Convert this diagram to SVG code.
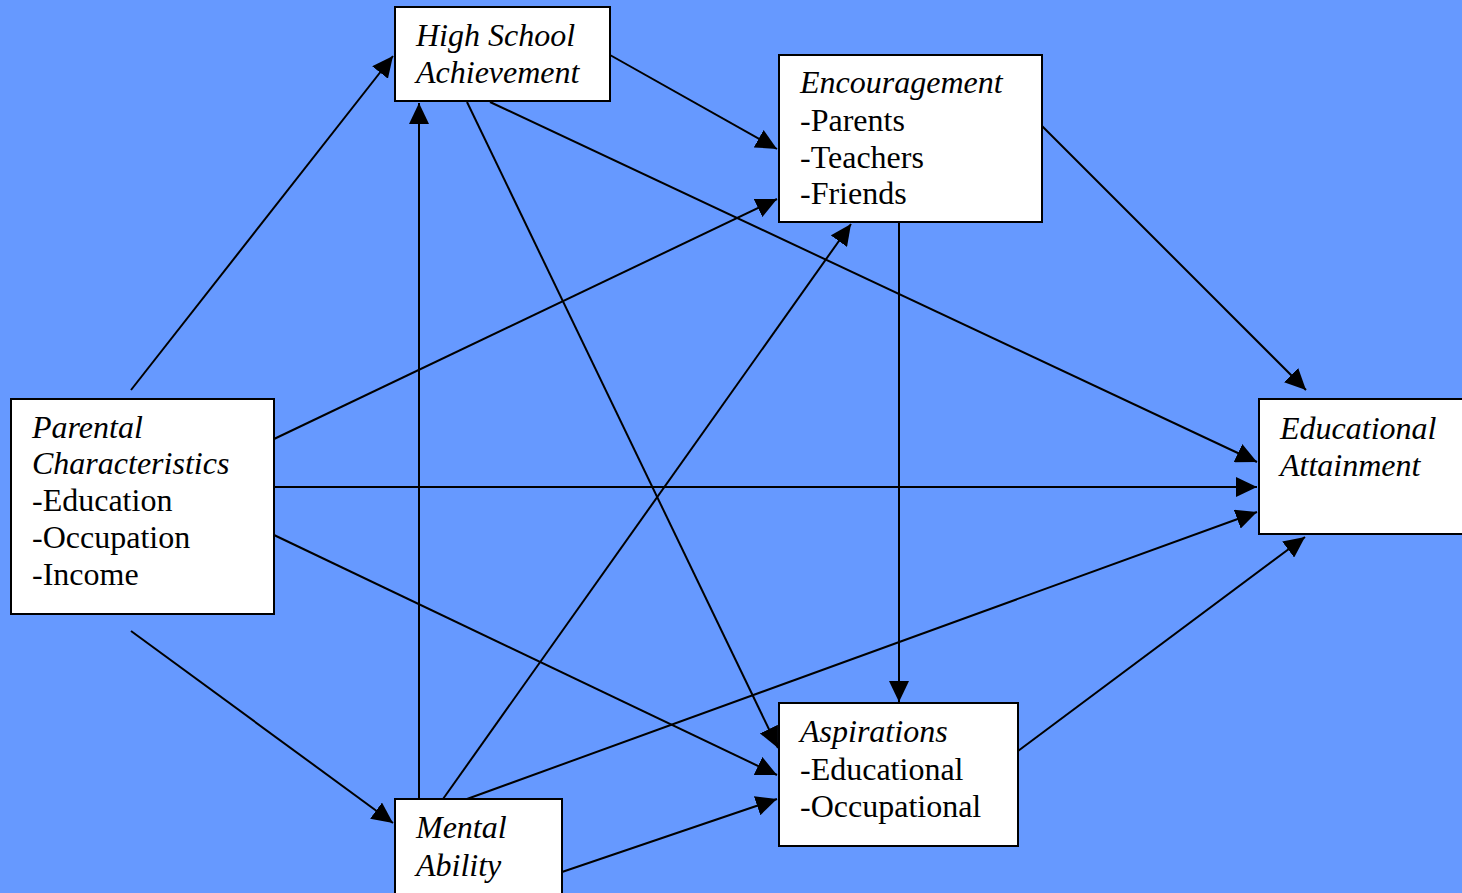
<svg xmlns="http://www.w3.org/2000/svg" width="1462" height="893" viewBox="0 0 1462 893">
  <style>
    .box { fill: #ffffff; stroke: #000000; stroke-width: 2; }
    .lbl { font-family: "Liberation Serif", "Times New Roman", serif; font-size: 32px; fill: #000000; }
    .it { font-style: italic; }
    .edge { stroke: #000000; stroke-width: 2; fill: none; marker-end: url(#arrow); }
  </style>
  <defs>
    <marker id="arrow" markerUnits="userSpaceOnUse" markerWidth="22" markerHeight="20" refX="21" refY="10" orient="auto">
      <path d="M0,0 L21,10 L0,20 z" fill="#000000"/>
    </marker>
  </defs>

  <rect width="1462" height="893" fill="#6699FF"/>

  <g id="connectors">
    <line class="edge" x1="131" y1="390" x2="393" y2="56"/>
    <line class="edge" x1="131" y1="631" x2="393" y2="823"/>
    <line class="edge" x1="419" y1="799" x2="419" y2="103"/>
    <line class="edge" x1="610" y1="55" x2="777" y2="149"/>
    <line class="edge" x1="274" y1="439" x2="777" y2="199"/>
    <line class="edge" x1="467" y1="102" x2="778" y2="748"/>
    <line class="edge" x1="490" y1="102" x2="1257" y2="462"/>
    <line class="edge" x1="1042" y1="126" x2="1306" y2="390"/>
    <line class="edge" x1="274" y1="487" x2="1257" y2="487"/>
    <line class="edge" x1="274" y1="535" x2="777" y2="775"/>
    <line class="edge" x1="443" y1="799" x2="851" y2="224"/>
    <line class="edge" x1="467" y1="799" x2="1257" y2="512"/>
    <line class="edge" x1="562" y1="872" x2="777" y2="799"/>
    <line class="edge" x1="899" y1="222" x2="899" y2="702"/>
    <line class="edge" x1="1018" y1="751" x2="1305" y2="537"/>
  </g>

  <g id="high-school-achievement">
    <rect class="box" x="395" y="7" width="215" height="94"/>
    <text class="lbl it" x="416" y="46">High School</text>
    <text class="lbl it" x="416" y="83">Achievement</text>
  </g>

  <g id="encouragement">
    <rect class="box" x="779" y="55" width="263" height="167"/>
    <text class="lbl it" x="800" y="93">Encouragement</text>
    <text class="lbl" x="800" y="131">-Parents</text>
    <text class="lbl" x="800" y="168">-Teachers</text>
    <text class="lbl" x="800" y="204">-Friends</text>
  </g>

  <g id="parental-characteristics">
    <rect class="box" x="11" y="399" width="263" height="215"/>
    <text class="lbl it" x="32" y="438">Parental</text>
    <text class="lbl it" x="32" y="474">Characteristics</text>
    <text class="lbl" x="32" y="511">-Education</text>
    <text class="lbl" x="32" y="548">-Occupation</text>
    <text class="lbl" x="32" y="585">-Income</text>
  </g>

  <g id="educational-attainment">
    <rect class="box" x="1259" y="399" width="215" height="135"/>
    <text class="lbl it" x="1280" y="439">Educational</text>
    <text class="lbl it" x="1280" y="476">Attainment</text>
  </g>

  <g id="mental-ability">
    <rect class="box" x="395" y="799" width="167" height="110"/>
    <text class="lbl it" x="416" y="838">Mental</text>
    <text class="lbl it" x="416" y="876">Ability</text>
  </g>

  <g id="aspirations">
    <rect class="box" x="779" y="703" width="239" height="143"/>
    <text class="lbl it" x="800" y="742">Aspirations</text>
    <text class="lbl" x="800" y="780">-Educational</text>
    <text class="lbl" x="800" y="817">-Occupational</text>
  </g>
</svg>
